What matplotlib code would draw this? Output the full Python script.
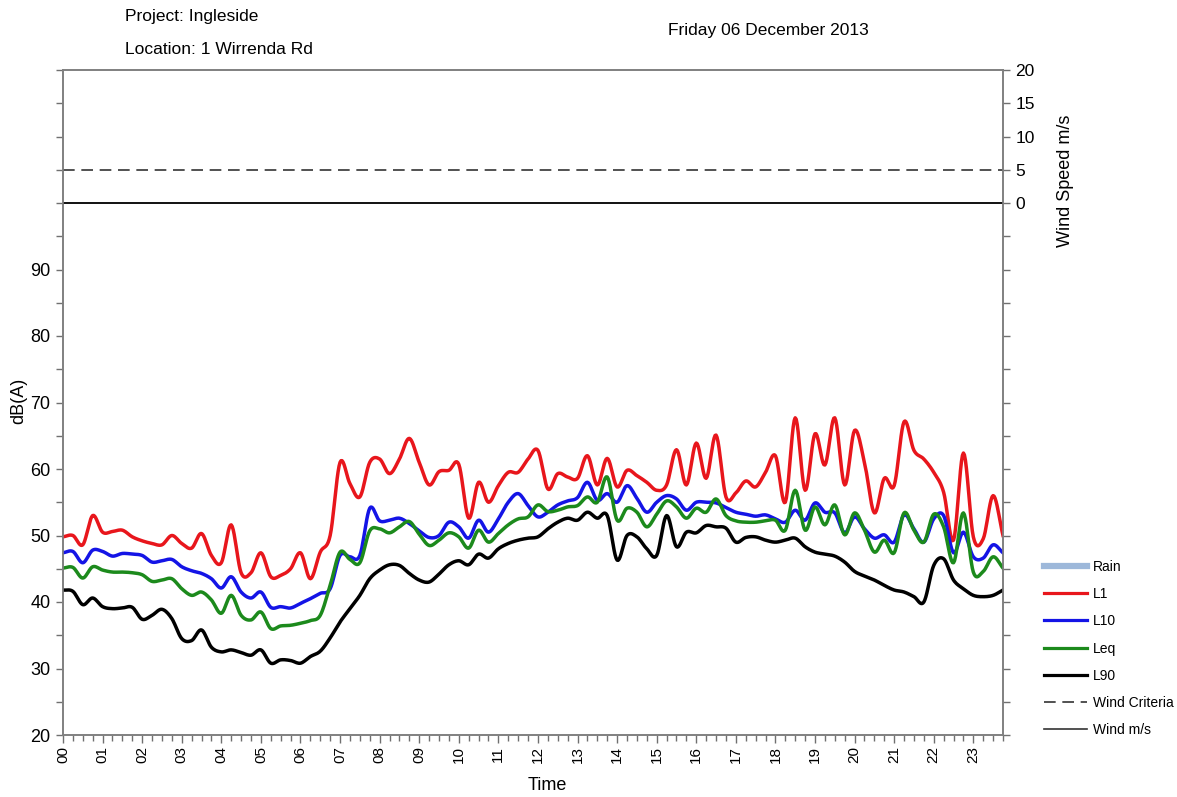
import numpy as np
import matplotlib
matplotlib.use("Agg")
import matplotlib.pyplot as plt
from matplotlib.lines import Line2D

plt.rcParams['font.family'] = ['Liberation Sans', 'DejaVu Sans']

# ---------------- data (15-minute intervals, 00:00 .. 23:45) ----------------
hours = np.arange(96) * 0.25

l1 = [49.8, 50.0, 48.6, 53.0,  50.5, 50.6, 50.8, 49.8,  49.2, 48.8, 48.6, 50.0,
      48.8, 48.1, 50.3, 47.0,  45.9, 51.6, 44.4, 44.4,  47.4, 43.8, 44.0, 45.0,
      47.4, 43.5, 47.5, 50.0,  61.0, 57.8, 55.8, 61.0,  61.5, 59.3, 61.5, 64.6,
      61.0, 57.6, 59.6, 59.8,  60.7, 52.6, 58.0, 55.0,  57.5, 59.5, 59.5, 61.5,
      62.8, 57.0, 59.3, 58.8,  58.6, 62.0, 57.6, 61.6,  57.3, 59.8, 59.0, 58.0,
      56.8, 57.6, 62.9, 57.6,  63.9, 58.6, 65.1, 55.8,  56.4, 58.2, 57.3, 59.5,
      62.0, 55.0, 67.7, 56.8,  65.3, 60.6, 67.7, 57.6,  65.8, 61.0, 53.4, 58.6,
      57.5, 67.1, 62.8, 61.5,  59.5, 56.5, 49.3, 62.4,  49.8, 49.5, 56.0, 50.0]

l10 = [47.4, 47.6, 45.9, 47.8,  47.6, 46.9, 47.3, 47.2,  47.0, 46.0, 46.2, 46.4,
       45.3, 44.7, 44.3, 43.5,  42.1, 43.8, 41.5, 40.6,  41.5, 39.2, 39.3, 39.1,
       39.8, 40.5, 41.3, 42.0,  47.0, 46.8, 47.0, 54.1,  52.2, 52.3, 52.6, 51.8,
       50.7, 49.7, 50.0, 52.0,  51.3, 49.6, 52.3, 50.5,  52.5, 55.0, 56.3, 54.5,
       52.8, 53.5, 54.6, 55.2,  55.7, 58.0, 55.3, 56.3,  55.0, 57.5, 55.6, 53.5,
       55.0, 56.0, 55.5, 53.8,  55.0, 55.0, 54.9, 54.2,  53.5, 53.2, 52.9, 53.1,
       52.5, 52.0, 53.8, 52.3,  54.9, 53.5, 53.4, 50.4,  52.8, 51.0, 49.6, 50.1,
       49.0, 53.1, 51.0, 49.0,  52.5, 53.0, 47.4, 50.5,  46.8, 46.6, 48.6, 47.4]

leq = [45.1, 45.2, 43.6, 45.3,  44.8, 44.5, 44.5, 44.4,  44.1, 43.1, 43.3, 43.5,
       42.0, 41.0, 41.5, 40.3,  38.3, 41.0, 38.0, 37.3,  38.5, 36.0, 36.4, 36.5,
       36.8, 37.2, 38.0, 42.5,  47.5, 46.4, 45.9, 50.7,  51.0, 50.4, 51.3, 52.1,
       50.2, 48.5, 49.3, 50.4,  49.8, 48.1, 50.8, 49.0,  50.3, 51.6, 52.5, 52.8,
       54.6, 53.6, 53.8, 54.3,  54.5, 55.8, 55.0, 58.8,  52.3, 54.1, 53.5, 51.3,
       53.2, 55.2, 54.3, 52.6,  54.1, 53.5, 55.5, 53.0,  52.2, 52.0, 52.0, 52.2,
       52.3, 50.8, 56.8, 50.8,  54.3, 51.6, 54.6, 50.1,  53.4, 50.8, 47.5, 49.3,
       47.4, 53.4, 50.8, 49.0,  53.2, 51.3, 45.9, 53.4,  44.5, 44.6, 46.8, 45.1]

l90 = [41.8, 41.6, 39.6, 40.6,  39.3, 39.0, 39.1, 39.2,  37.4, 38.0, 38.9, 37.5,
       34.5, 34.2, 35.8, 33.2,  32.5, 32.8, 32.4, 32.0,  32.8, 30.8, 31.3, 31.2,
       30.8, 31.8, 32.6, 34.6,  37.0, 39.0, 41.0, 43.5,  44.8, 45.6, 45.5, 44.3,
       43.3, 43.0, 44.2, 45.6,  46.2, 45.6, 47.2, 46.6,  48.0, 48.8, 49.3, 49.6,
       49.8, 51.0, 52.0, 52.6,  52.3, 53.5, 52.6, 53.0,  46.3, 50.0, 49.8, 48.0,
       47.0, 53.0, 48.3, 50.5,  50.4, 51.5, 51.3, 51.1,  49.0, 49.7, 49.8, 49.3,
       49.0, 49.3, 49.6, 48.3,  47.5, 47.2, 46.9, 46.0,  44.6, 43.9, 43.3, 42.5,
       41.8, 41.5, 40.8, 40.0,  45.5, 46.5, 43.3, 42.0,  41.0, 40.8, 41.0, 41.8]

wind_criteria = 5.0
wind_level = 0.0
hour_labels = [f"{h:02d}" for h in range(24)]

series_names = ["L1", "L10", "Leq", "L90"]
series_colors = ["#e8161c", "#1414e6", "#1c8a1c", "#000000"]


def smooth(x, y, n=10):
    """Catmull-Rom curve through the data points (Excel-style smoothed line)."""
    x = np.asarray(x, float)
    y = np.asarray(y, float)
    px = np.concatenate([[2 * x[0] - x[1]], x, [2 * x[-1] - x[-2]]])
    py = np.concatenate([[2 * y[0] - y[1]], y, [2 * y[-1] - y[-2]]])
    t = np.linspace(0, 1, n, endpoint=False)
    t2, t3 = t * t, t * t * t
    xs, ys = [], []
    for i in range(1, len(px) - 2):
        for p, out in ((px, xs), (py, ys)):
            p0, p1, p2, p3 = p[i - 1], p[i], p[i + 1], p[i + 2]
            out.append(0.5 * ((2 * p1) + (-p0 + p2) * t
                              + (2 * p0 - 5 * p1 + 4 * p2 - p3) * t2
                              + (-p0 + 3 * p1 - 3 * p2 + p3) * t3))
    xs.append([x[-1]])
    ys.append([y[-1]])
    return np.concatenate(xs), np.concatenate(ys)


W, H = 1177, 797
fig = plt.figure(figsize=(W / 100, H / 100), dpi=100)
ax = fig.add_axes([63 / W, 62 / H, 940 / W, 665 / H])

for vals, c in zip([l1, l10, leq, l90], series_colors):
    sx, sy = smooth(hours, vals)
    ax.plot(sx, sy, color=c, lw=2.5, solid_joinstyle='round', zorder=3)

ax.set_xlim(0, 23.75)
ax.set_ylim(20, 120)

# left axis ticks
yt = list(range(20, 125, 5))
ax.set_yticks(yt)
ax.set_yticklabels([str(v) if (v % 10 == 0 and v <= 90) else "" for v in yt])
ax.set_xticks(range(24))
ax.set_xticklabels(hour_labels, rotation=90)
ax.set_xticks(np.arange(0, 23.76, 0.25), minor=True)
ax.tick_params(axis='y', labelsize=13, length=5, width=1, color='#707070', pad=4)
ax.tick_params(axis='x', which='major', labelsize=11, length=6, width=1, color='#707070', pad=2)
ax.tick_params(axis='x', which='minor', length=4, width=1, color='#707070')

for sp in ax.spines.values():
    sp.set_color('#808080')
    sp.set_linewidth(1.2)

# right (wind) axis
ax2 = ax.twinx()
ax2.set_ylim(-80, 20)
wt = list(range(-80, 25, 5))
ax2.set_yticks(wt)
ax2.set_yticklabels([str(v) if v >= 0 else "" for v in wt])
ax2.tick_params(axis='y', labelsize=12.5, length=5, width=1, color='#707070', pad=4)
for sp in ax2.spines.values():
    sp.set_color('#808080')
    sp.set_linewidth(1.2)

ax2.axhline(wind_criteria, color='#333333', lw=1.2, dashes=(7, 4))
ax2.axhline(wind_level, color='#111111', lw=1.4)

# texts
fig.text(125 / W, 1 - 17 / H, "Project: Ingleside", fontsize=12.5, va='center', ha='left')
fig.text(125 / W, 1 - 50 / H, "Location: 1 Wirrenda Rd", fontsize=12.5, va='center', ha='left')
fig.text(668 / W, 1 - 30 / H, "Friday 06 December 2013", fontsize=12.5, va='center', ha='left')
fig.text(19 / W, 1 - 401 / H, "dB(A)", fontsize=13, rotation=90, va='center', ha='center')
fig.text(1065 / W, 1 - 181 / H, "Wind Speed m/s", fontsize=13, rotation=90, va='center', ha='center')
fig.text(547 / W, 1 - 785 / H, "Time", fontsize=13, va='center', ha='center')

# legend
handles = [Line2D([], [], color='#9db8da', lw=4.5)]
handles += [Line2D([], [], color=c, lw=2.3) for c in series_colors]
handles += [Line2D([], [], color='#333333', lw=1.2, dashes=(7, 4)),
            Line2D([], [], color='#333333', lw=1.2)]
labels = ["Rain"] + series_names + ["Wind Criteria", "Wind m/s"]
fig.legend(handles, labels, loc='center left', bbox_to_anchor=(1037 / W, 1 - 648.5 / H),
           frameon=False, fontsize=10, handlelength=3.1, handletextpad=0.45,
           labelspacing=0.95, borderpad=0)

fig.savefig("out.png", dpi=100)
